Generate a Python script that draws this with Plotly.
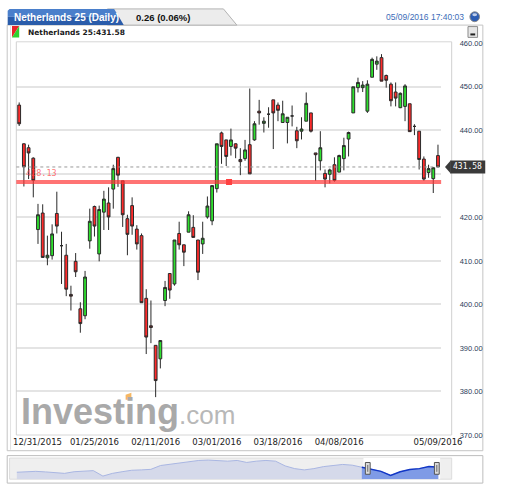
import pandas as pd
import plotly.graph_objects as go

# trading days shown (Euronext, holidays removed)
holidays = ["2016-01-01", "2016-03-25", "2016-03-28"]
days = pd.bdate_range("2015-12-31", "2016-05-09").drop(pd.to_datetime(holidays))
dates = [d.strftime("%m/%d/%Y") for d in days]

# daily OHLC
opens = [445.8, 436.9, 436.0, 433.6, 417.2, 421.0, 410.7, 411.2, 420.9, 413.5,
         411.3, 402.3, 409.9, 399.0, 397.4, 414.6, 422.5, 411.6, 421.2, 423.3,
         426.5, 433.8, 428.4, 419.7, 422.7, 417.3, 415.8, 401.4, 395.1, 390.6,
         387.5, 400.9, 407.1, 404.7, 416.3, 413.7, 416.6, 417.7, 414.8, 413.9,
         420.1, 419.2, 426.6, 439.4, 437.8, 436.3, 436.9, 433.3, 433.5, 436.7,
         437.8, 444.4, 441.6, 443.7, 447.0, 445.8, 441.8, 441.8, 443.3, 439.9,
         439.8, 442.1, 444.0, 434.8, 433.0, 430.1, 429.9, 432.1, 430.4, 433.5,
         438.0, 444.0, 449.8, 449.8, 444.4, 452.2, 455.2, 456.7, 452.6, 450.6,
         448.8, 445.2, 445.5, 446.1, 440.9, 439.8, 433.4, 430.3, 428.9, 434.2]
highs = [446.4, 437.0, 436.7, 433.8, 423.1, 423.0, 415.8, 418.4, 425.9, 416.7,
         413.9, 404.3, 411.8, 400.5, 407.7, 422.0, 422.7, 422.7, 426.1, 426.9,
         432.1, 433.9, 428.4, 420.6, 424.6, 418.2, 416.3, 403.5, 400.9, 390.6,
         391.8, 405.4, 407.1, 414.8, 419.0, 413.7, 421.4, 420.5, 414.8, 419.0,
         424.8, 427.3, 436.9, 439.7, 437.8, 440.4, 437.0, 435.9, 437.8, 449.6,
         442.1, 447.0, 443.0, 445.3, 447.0, 446.4, 446.8, 443.0, 445.7, 440.8,
         443.0, 448.7, 444.0, 434.8, 439.8, 431.0, 431.2, 433.8, 434.4, 438.3,
         439.7, 450.0, 452.1, 451.3, 451.5, 456.7, 457.0, 457.5, 452.8, 451.0,
         451.0, 448.7, 450.6, 446.1, 441.4, 439.8, 434.0, 432.1, 431.5, 436.7]
lows = [441.0, 427.1, 428.8, 424.6, 413.9, 410.7, 409.0, 410.3, 416.3, 404.7,
        401.9, 398.6, 406.3, 393.5, 396.6, 412.8, 415.6, 409.9, 417.1, 417.1,
        422.0, 427.0, 417.8, 411.3, 416.0, 412.6, 400.4, 388.6, 391.1, 378.7,
        385.3, 399.6, 401.3, 404.3, 412.6, 408.8, 416.6, 415.4, 405.6, 411.6,
        419.7, 418.2, 425.7, 432.3, 431.8, 434.2, 433.6, 429.7, 433.0, 430.0,
        437.6, 441.3, 439.5, 440.6, 435.7, 442.1, 441.8, 437.0, 440.9, 435.9,
        437.9, 442.1, 439.5, 428.4, 430.8, 426.9, 427.8, 428.2, 430.4, 430.8,
        434.0, 444.0, 448.7, 448.8, 444.0, 452.2, 453.9, 451.3, 449.8, 445.5,
        445.5, 445.1, 442.1, 439.7, 438.9, 431.0, 428.4, 429.1, 425.6, 431.58]
closes = [441.5, 431.6, 434.8, 428.5, 420.6, 410.8, 411.3, 416.2, 418.0, 413.5,
          403.5, 401.9, 407.5, 395.6, 406.3, 419.1, 418.0, 421.8, 424.2, 420.1,
          431.2, 429.7, 420.6, 416.1, 418.0, 413.9, 400.4, 392.5, 394.7, 382.5,
          391.7, 403.9, 403.3, 414.8, 413.7, 412.0, 420.6, 415.4, 407.4, 415.2,
          422.6, 427.3, 436.9, 436.3, 434.0, 437.8, 435.9, 432.8, 435.5, 430.0,
          441.5, 444.0, 442.1, 443.7, 444.0, 444.6, 443.8, 443.0, 443.3, 437.6,
          440.3, 446.2, 439.8, 434.4, 436.0, 428.8, 430.9, 428.5, 434.2, 436.5,
          439.5, 450.0, 451.0, 450.4, 450.6, 456.3, 455.9, 451.3, 451.5, 446.8,
          447.4, 448.5, 450.2, 439.7, 440.9, 433.3, 428.8, 431.2, 431.4, 431.58]

tick_idx = [16, 29, 42, 55, 68, 89]
y_ticks = [370, 380, 390, 400, 410, 420, 430, 440, 450, 460]
support_level = 428.13
last_price = 431.58
handle_idx = 44.6

# navigator (long history) levels
nav_values = [404, 407, 409, 406, 402, 398, 407, 411, 413, 383,
              398, 407, 415, 417, 420, 441, 448, 458, 465, 469,
              471, 469, 465, 469, 458, 465, 469, 465, 439, 424,
              417, 424, 435, 441, 447, 443, 432, 419, 409, 387,
              407, 419, 424, 435, 432]
nav_floor = 366
nav_sel_start = 36

W, H = 512, 494


def X(px):
    return px / W


def Y(py):
    return 1 - py / H


def rect(x0, y0, x1, y1, fill="rgba(0,0,0,0)", line="rgba(0,0,0,0)", width=1, layer="above"):
    return dict(type="rect", xref="paper", yref="paper", x0=X(x0), x1=X(x1), y0=Y(y0), y1=Y(y1),
                fillcolor=fill, line=dict(color=line, width=width), layer=layer)


def path(pts, fill, line="rgba(0,0,0,0)", width=1, layer="above"):
    d = "M " + " L ".join(f"{X(a):.5f},{Y(b):.5f}" for a, b in pts) + " Z"
    return dict(type="path", xref="paper", yref="paper", path=d, fillcolor=fill,
                line=dict(color=line, width=width), layer=layer)


fig = go.Figure()

fig.add_trace(go.Candlestick(
    x=dates, open=opens, high=highs, low=lows, close=closes,
    increasing=dict(line=dict(color="#2a2a2a", width=1), fillcolor="#2ee02e"),
    decreasing=dict(line=dict(color="#2a2a2a", width=1), fillcolor="#ff2b2b"),
    whiskerwidth=0, hoverinfo="skip", xaxis="x", yaxis="y",
))

# navigator: full history, then the selected window on top
nav_x = list(range(len(nav_values)))
sel_x = nav_x[nav_sel_start:]
for xs, ys, fc, lc, lw in [(nav_x, nav_values, "#d5d9ea", "#a9b6e2", 1),
                           (sel_x, nav_values[nav_sel_start:], "#7f9be6", "#1237c6", 1.5)]:
    fig.add_trace(go.Scatter(x=xs, y=[nav_floor] * len(xs), mode="lines", line=dict(width=0),
                             xaxis="x2", yaxis="y2", hoverinfo="skip"))
    fig.add_trace(go.Scatter(x=xs, y=ys, mode="lines", fill="tonexty", fillcolor=fc,
                             line=dict(color=lc, width=lw), xaxis="x2", yaxis="y2", hoverinfo="skip"))

shapes = [
    # panels
    rect(7.5, 21.5, 503.5, 455, fill="white", line="#c4c4c4", layer="below"),
    rect(7.5, 460, 503.5, 488, fill="white", line="#bdbdbd", layer="below"),
    rect(10, 462.5, 471, 484, fill="#efefef", line="#dddddd", layer="below"),
    rect(379, 462.5, 459, 484, fill="white", layer="below"),
    # header tabs
    path([(112, 21.5), (112, 5), (233, 5), (247, 21.5)], "#ececec", "#b3b3b3"),
    path([(8, 21.5), (8, 7), (10, 5), (119, 5), (124, 13), (8, 13)], "#4a7fcb"),
    path([(8, 21.5), (8, 13), (124, 13), (129, 21.5)], "#2a5caa"),
    # orb top right
    dict(type="circle", xref="paper", yref="paper", x0=X(490), x1=X(500), y0=Y(18), y1=Y(8),
         fillcolor="#2d5db3", line=dict(color="#8a8a8a", width=1)),
    dict(type="circle", xref="paper", yref="paper", x0=X(492.5), x1=X(497.5), y0=Y(12.5), y1=Y(9.5),
         fillcolor="rgba(255,255,255,0.7)", line=dict(width=0)),
    # red/green icon
    path([(12.5, 22.5), (20, 22.5), (12.5, 34)], "#e8262a"),
    path([(20, 22.5), (20, 34), (12.5, 34)], "#2fd22f"),
    # minimise button
    rect(488, 23, 498, 34, fill="#e6e6e6", line="#8c8c8c"),
    dict(type="line", xref="paper", yref="paper", x0=X(490.5), x1=X(495.5), y0=Y(31), y1=Y(31),
         line=dict(color="#222222", width=2)),
    # plot frame
    dict(type="line", xref="paper", yref="paper", x0=X(17), x1=X(471), y0=Y(38.5), y1=Y(38.5),
         line=dict(color="#d6d6d6", width=1)),
    dict(type="line", xref="paper", yref="paper", x0=X(17), x1=X(471), y0=Y(439), y1=Y(439),
         line=dict(color="#d6d6d6", width=1)),
    dict(type="line", xref="paper", yref="paper", x0=X(17), x1=X(17), y0=Y(38.5), y1=Y(439),
         line=dict(color="#d0d0d0", width=1)),
    dict(type="line", xref="paper", yref="paper", x0=X(471), x1=X(471), y0=Y(38.5), y1=Y(439),
         line=dict(color="#d0d0d0", width=1)),
    dict(type="line", xref="paper", yref="paper", x0=X(11), x1=X(11), y0=Y(22), y1=Y(454),
         line=dict(color="#e2e2e2", width=1)),
    # last price dotted line and support line
    dict(type="line", xref="paper", yref="y", x0=X(17), x1=X(460), y0=last_price, y1=last_price,
         line=dict(color="#9a9a9a", width=1, dash="dot")),
    dict(type="line", xref="paper", yref="y", x0=X(17), x1=X(460), y0=support_level, y1=support_level,
         line=dict(color="rgba(255,55,55,0.7)", width=4)),
    dict(type="rect", xref="x", yref="y", xsizemode="pixel", ysizemode="pixel",
         xanchor=handle_idx, yanchor=support_level, x0=-3, x1=3, y0=-3, y1=3,
         fillcolor="#ff4040", line=dict(width=0)),
    # price tag (arrow + box)
    dict(type="path", xref="paper", yref="y",
         path=f"M {X(464):.5f},{last_price} L {X(470):.5f},{last_price + 1.5} L {X(470):.5f},{last_price - 1.5} Z",
         fillcolor="#3a3a3a", line=dict(width=0)),
    dict(type="rect", xref="paper", yref="y", ysizemode="pixel", yanchor=last_price,
         x0=X(469.5), x1=X(506), y0=-6.5, y1=6.5, fillcolor="#3a3a3a", line=dict(width=0)),
    # watermark accent
    path([(131, 398), (137, 396), (137, 403), (131, 403)], "rgba(245,170,70,0.85)"),
    # navigator handles
    rect(381, 467, 386, 479, fill="#dcdcdc", line="#555555"),
    rect(453, 467, 458, 479, fill="#dcdcdc", line="#555555"),
    dict(type="line", xref="paper", yref="paper", x0=X(383.5), x1=X(383.5), y0=Y(469.5), y1=Y(476.5),
         line=dict(color="#666666", width=1)),
    dict(type="line", xref="paper", yref="paper", x0=X(455.5), x1=X(455.5), y0=Y(469.5), y1=Y(476.5),
         line=dict(color="#666666", width=1)),
]

annotations = [
    dict(text="<b>Netherlands 25 (Daily)</b>", x=X(13), y=Y(13.5), xanchor="left", yanchor="middle",
         font=dict(family="Liberation Sans", size=10, color="white")),
    dict(text="<b>0.26 (0.06%)</b>", x=X(140), y=Y(14), xanchor="left", yanchor="middle",
         font=dict(family="Liberation Sans", size=9.5, color="#111111")),
    dict(text="05/09/2016 17:40:03", x=X(486), y=Y(13.5), xanchor="right", yanchor="middle",
         font=dict(family="Liberation Sans", size=8.5, color="#3d6db8")),
    dict(text="<b>Netherlands 25:431.58</b>", x=X(27), y=Y(29), xanchor="left", yanchor="middle",
         font=dict(family="DejaVu Sans", size=7.5, color="#1a1a1a")),
    dict(text="<b>Investing</b><span style='font-size:26px;font-weight:normal;color:#b8b8b8'>.com</span>",
         x=X(20), y=Y(415), xanchor="left", yanchor="middle",
         font=dict(family="Liberation Sans", size=36, color="#a9a9a9")),
    dict(text=f"{support_level:.2f}", x=X(25), y=support_level, yref="y", yshift=9,
         xanchor="left", yanchor="middle",
         font=dict(family="DejaVu Sans Mono", size=8.5, color="rgba(255,70,70,0.75)")),
    dict(text=f"{last_price:.2f}", x=X(488), y=last_price, yref="y", xanchor="center", yanchor="middle",
         font=dict(family="DejaVu Sans Mono", size=8, color="white")),
    dict(text=dates[0], x=X(11.5), y=Y(446), xanchor="left", yanchor="middle",
         font=dict(family="DejaVu Sans", size=8.5, color="#222222")),
]
for a in annotations:
    a.setdefault("xref", "paper")
    a.setdefault("yref", "paper")
    a["showarrow"] = False

# the 430 label sits under the price tag in the original
y_text = ["" if v == 430 else f"{v:.2f}" for v in y_ticks]

fig.update_layout(
    width=W, height=H,
    margin=dict(l=0, r=0, t=0, b=0),
    paper_bgcolor="white",
    plot_bgcolor="rgba(0,0,0,0)",
    showlegend=False,
    hovermode=False,
    boxgap=0.15,
    xaxis=dict(
        domain=[X(17), X(460)], type="category", range=[-0.61, 89.67],
        showgrid=False, zeroline=False, showline=False,
        tickvals=[dates[i] for i in tick_idx], ticktext=[dates[i] for i in tick_idx],
        ticks="", tickfont=dict(family="DejaVu Sans", size=8.5, color="#222222"),
        rangeslider=dict(visible=False), fixedrange=True,
    ),
    yaxis=dict(
        domain=[Y(439), Y(40)], range=[370, 460], side="right",
        tickvals=y_ticks, ticktext=y_text,
        showgrid=True, gridcolor="#e4e4e4", gridwidth=1.5, zeroline=False, showline=False,
        ticks="outside", ticklen=16, tickcolor="rgba(0,0,0,0)",
        tickfont=dict(family="Liberation Sans", size=7.5, color="#2e3d5a"),
    ),
    xaxis2=dict(domain=[X(17.3), X(457.3)], range=[0, len(nav_values) - 1], anchor="y2", visible=False),
    yaxis2=dict(domain=[Y(484), Y(462.5)], range=[nav_floor, 482], anchor="x2", visible=False),
    shapes=shapes,
    annotations=annotations,
)

fig.write_html(
    "out.html",
    config={"displayModeBar": False},
    post_script=(
        "var s=document.documentElement.style;s.margin='0';s.overflow='hidden';"
        "var b=document.body.style;b.margin='0';b.overflow='hidden';b.width='512px';b.height='494px';"
        "var g=document.getElementById('{plot_id}');g.style.overflow='hidden';"
    ),
)
